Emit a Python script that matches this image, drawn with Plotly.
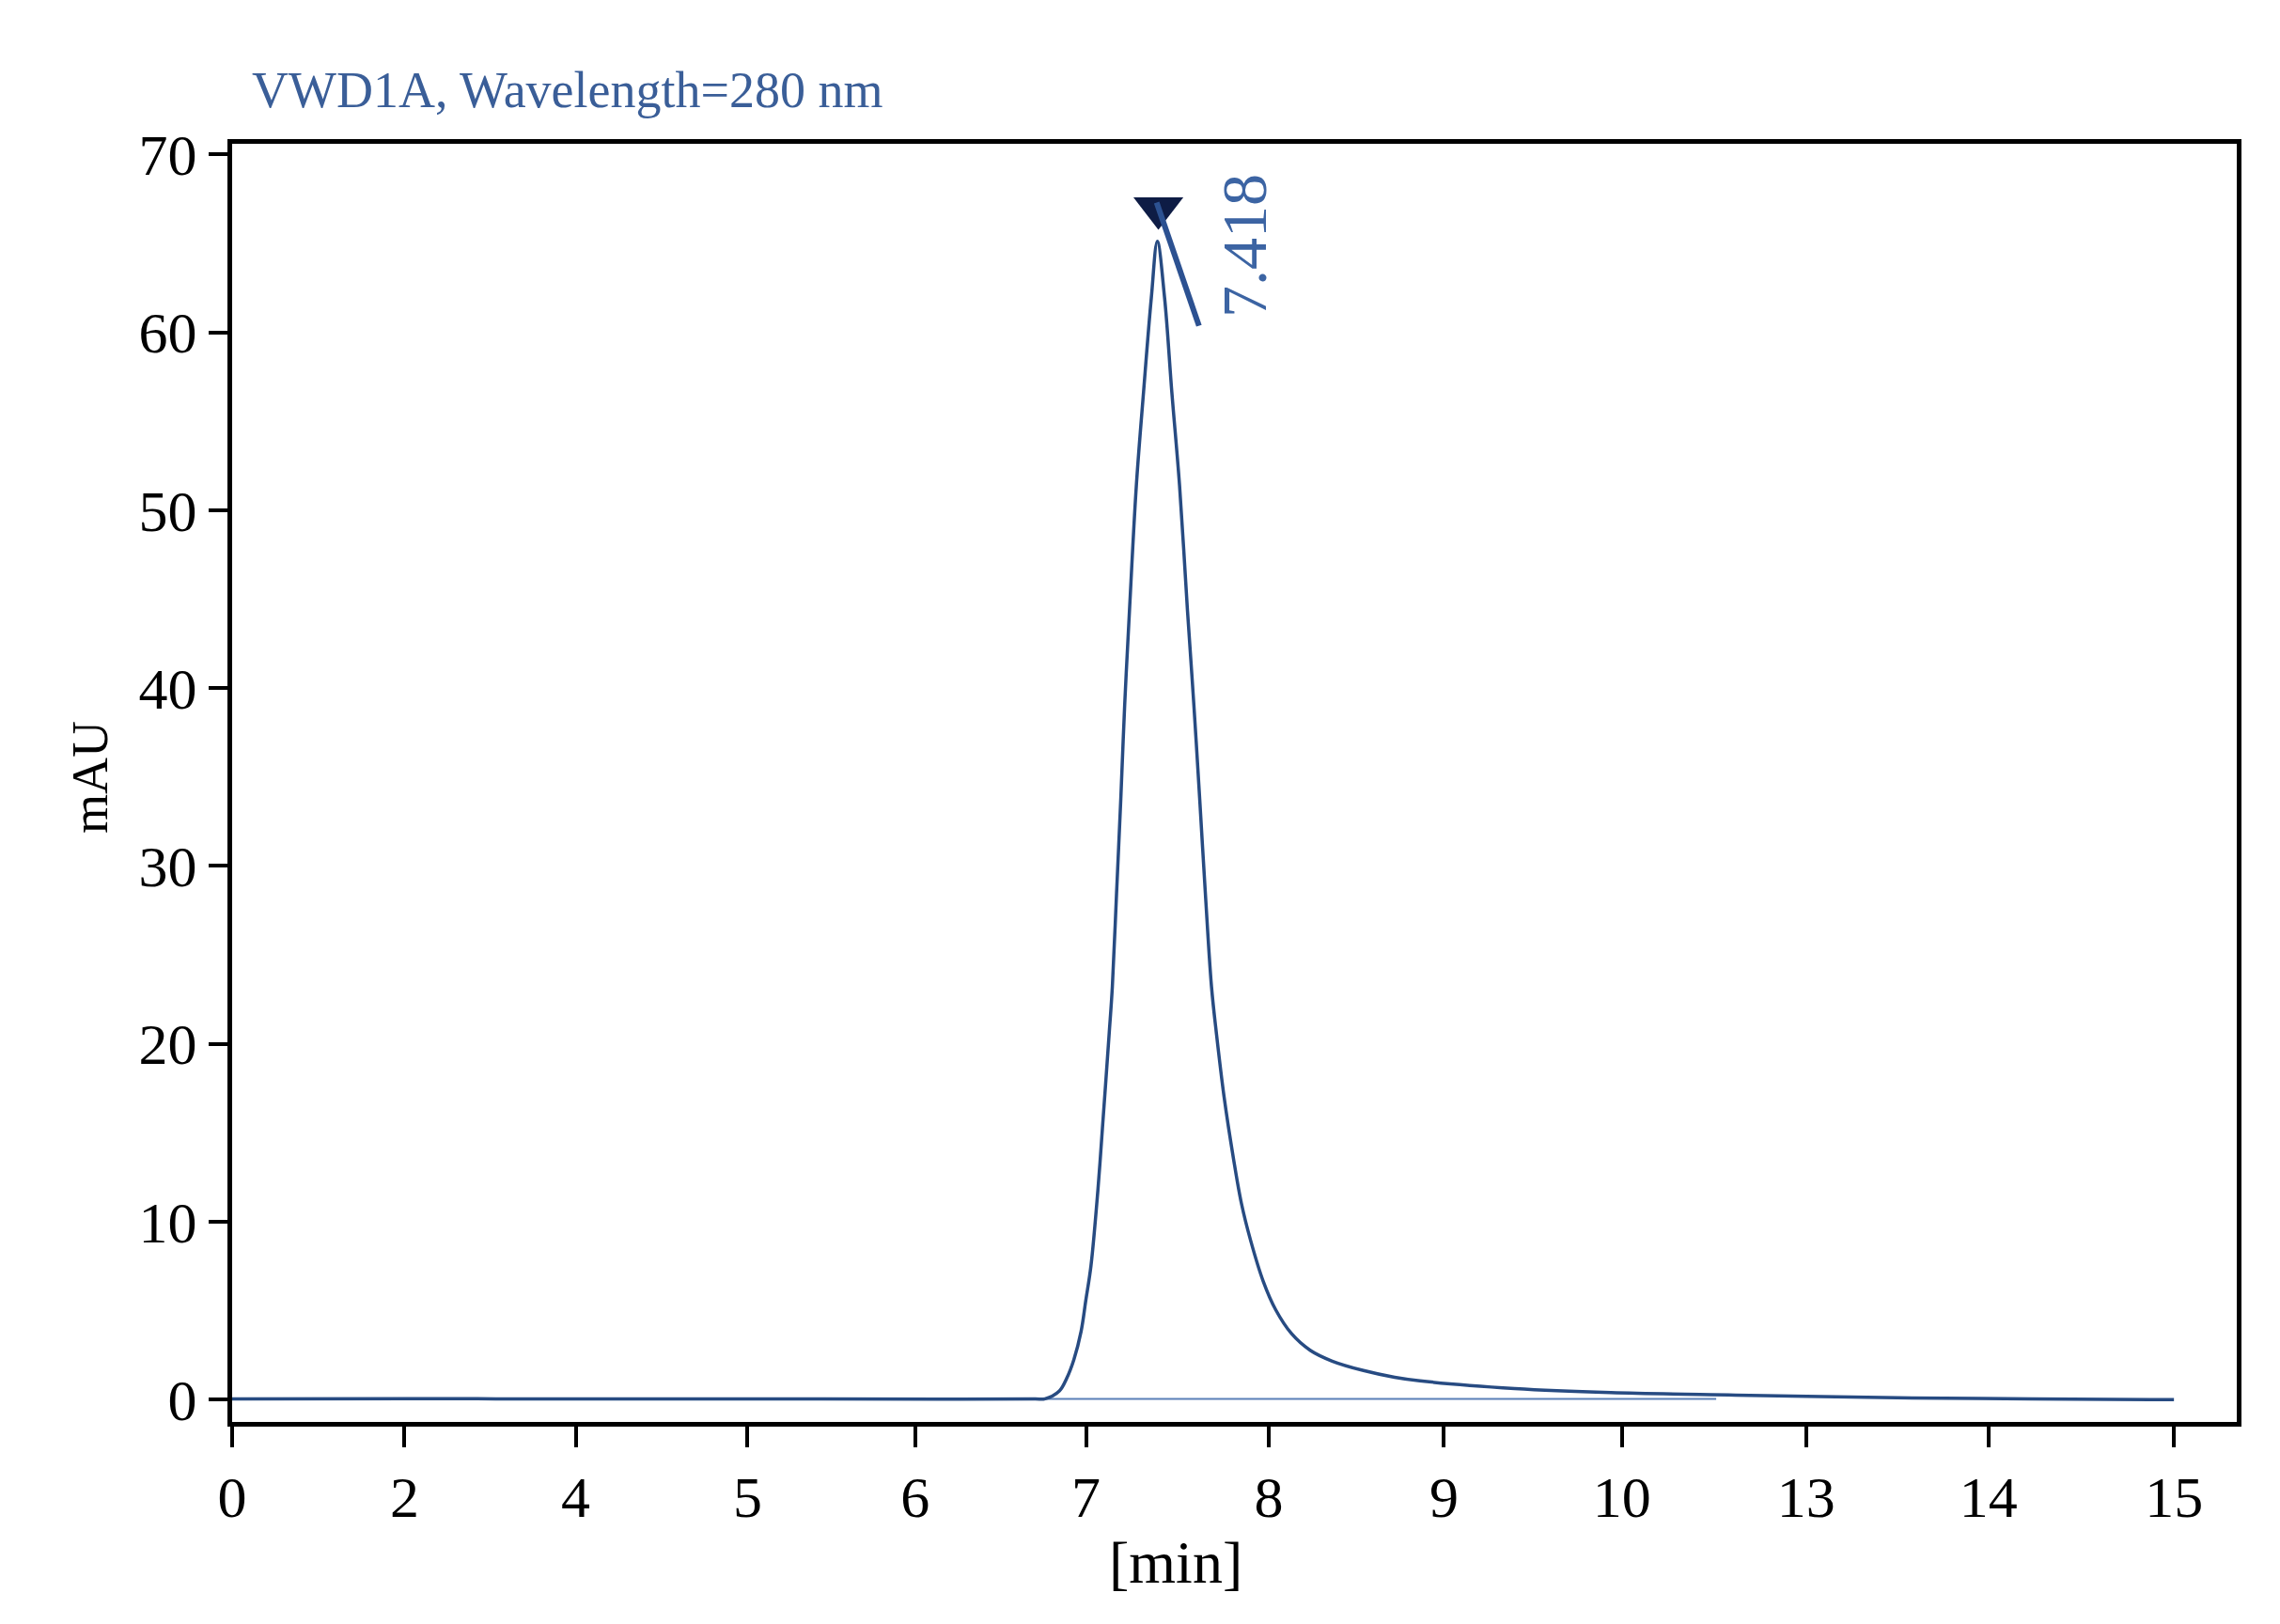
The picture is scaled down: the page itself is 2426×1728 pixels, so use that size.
import plotly.graph_objects as go

# ---- data (x in chart-axis position units; tick labels are placed at these positions) ----
tick_pos = [0.0, 0.977, 1.947, 2.921, 3.870, 4.839, 5.874, 6.867, 7.876, 8.920, 9.953, 11.005]
tick_labels = ["0", "2", "4", "5", "6", "7", "8", "9", "10", "13", "14", "15"]

x_pos = [0.0, 1.0, 2.0, 3.0, 4.0, 4.55, 4.607, 4.688, 4.729, 4.770, 4.811, 4.838, 4.867,
         4.906, 4.932, 4.970, 4.988, 5.012, 5.036, 5.058, 5.085, 5.124, 5.165, 5.209,
         5.243, 5.284, 5.325, 5.369, 5.414, 5.450, 5.483, 5.515, 5.550, 5.578, 5.621,
         5.675, 5.719, 5.772, 5.843, 5.914, 6.003, 6.109, 6.234, 6.411, 6.588, 6.731,
         7.269, 7.813, 8.519, 9.436, 10.201, 11.004]
signal = [0.05, 0.06, 0.04, 0.05, 0.03, 0.04, 0.05, 0.49, 1.19, 2.25, 3.84, 5.60, 7.53,
          11.76, 15.28, 20.57, 23.21, 28.49, 33.78, 39.06, 44.34, 51.38, 56.66, 61.95,
          65.12, 61.95, 56.66, 51.38, 44.34, 39.06, 33.78, 28.49, 23.21, 20.57, 17.04,
          13.52, 11.06, 8.94, 6.66, 5.05, 3.72, 2.78, 2.17, 1.64, 1.26, 1.06,
          0.63, 0.40, 0.26, 0.11, 0.05, 0.00]

baseline_x = [4.607, 8.41]
baseline_y = [0.05, 0.05]

peak_label = "7.418"
peak_x = 5.249
peak_mark_y = 66.98
tick_line_x = [5.239, 5.479]
tick_line_y = [67.3, 60.37]
label_x = 5.732
label_y = 64.86

y_ticks = [0, 10, 20, 30, 40, 50, 60, 70]
title_text = "VWD1A, Wavelength=280 nm"

FONT = "Liberation Serif, Times New Roman, serif"
CURVE = "#274b82"

fig = go.Figure()
fig.add_trace(go.Scatter(x=baseline_x, y=baseline_y, mode="lines",
                         line=dict(color="#5b80b8", width=2), showlegend=False, hoverinfo="skip"))
fig.add_trace(go.Scatter(x=x_pos, y=signal, mode="lines",
                         line=dict(color=CURVE, width=3.5, shape="spline", smoothing=1.0),
                         showlegend=False))
fig.add_trace(go.Scatter(x=[peak_x], y=[peak_mark_y], mode="markers",
                         marker=dict(symbol="triangle-down", size=46, color="#0e1c45",
                                     line=dict(width=0)), showlegend=False))
fig.add_trace(go.Scatter(x=tick_line_x, y=tick_line_y, mode="lines",
                         line=dict(color="#2c5191", width=6), showlegend=False))

fig.add_annotation(x=label_x, y=label_y, xref="x", yref="y", text=peak_label, showarrow=False,
                   textangle=-90, font=dict(family=FONT, size=68, color="#3c64a3"))
fig.add_annotation(x=0.0087, y=1.042, xref="paper", yref="paper", text=title_text,
                   showarrow=False, xanchor="left", yanchor="middle",
                   font=dict(family=FONT, size=54, color="#3a5e98"))
fig.add_annotation(x=5.346, y=-0.110, xref="x", yref="paper", text="[min]", showarrow=False,
                   xanchor="center", yanchor="middle", font=dict(family=FONT, size=64, color="black"))
fig.add_annotation(x=-0.071, y=0.504, xref="paper", yref="paper", text="mAU", showarrow=False,
                   textangle=-90, xanchor="center", yanchor="middle",
                   font=dict(family=FONT, size=54, color="black"))

fig.update_xaxes(range=[0, 11.36], tickmode="array", tickvals=tick_pos, ticktext=tick_labels,
                 ticks="outside", ticklen=22, tickwidth=4, tickcolor="black",
                 showline=True, linewidth=5, linecolor="black", mirror=True,
                 showgrid=False, zeroline=False,
                 tickfont=dict(family=FONT, size=62, color="black"))
fig.update_yaxes(range=[-1.25, 70.6], tickmode="array", tickvals=y_ticks,
                 ticks="outside", ticklen=20, tickwidth=4, tickcolor="black",
                 showline=True, linewidth=5, linecolor="black", mirror=True,
                 showgrid=False, zeroline=False,
                 tickfont=dict(family=FONT, size=62, color="black"))

fig.update_layout(width=2426, height=1728, margin=dict(l=247, r=46, t=153, b=215),
                  plot_bgcolor="white", paper_bgcolor="white")

fig.write_html("out.html")
